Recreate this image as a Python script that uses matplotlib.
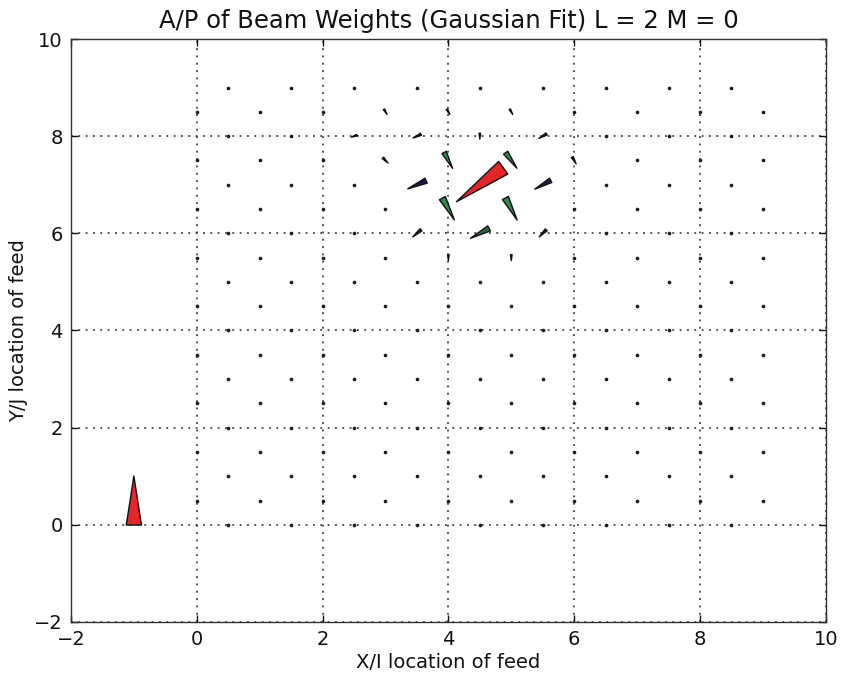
import numpy as np
import matplotlib
matplotlib.use("Agg")
import matplotlib.pyplot as plt
from matplotlib.collections import PolyCollection
from matplotlib.transforms import IdentityTransform

# --- feed lattice (hex layout) ---
# whole rows: y = 0..9, x = 0.5..8.5 ; half rows: y = 0.5..8.5, x = 0..9
ROW_Y_WHOLE = [0, 1, 2, 3, 4, 5, 6, 7, 8, 9]
ROW_X_WHOLE = [0.5, 1.5, 2.5, 3.5, 4.5, 5.5, 6.5, 7.5, 8.5]
ROW_Y_HALF = [0.5, 1.5, 2.5, 3.5, 4.5, 5.5, 6.5, 7.5, 8.5]
ROW_X_HALF = [0, 1, 2, 3, 4, 5, 6, 7, 8, 9]

# feeds whose weight is too small to show: plain dot
DOT_COLOR = "#1a1a2a"

# feeds with a visible weight: position, amplitude (key = 1), phase (deg), colour
FEED_X = [4.5, 4.0, 5.0, 4.0, 5.0, 3.5, 5.5, 4.5, 3.5, 5.5,
          4.0, 5.0, 3.0, 6.0, 3.5, 4.5, 5.5, 3.0, 4.0, 5.0, 2.5]
FEED_Y = [7.0, 7.5, 7.5, 6.5, 6.5, 7.0, 7.0, 6.0, 6.0, 6.0,
          5.5, 5.5, 7.5, 7.5, 8.0, 8.0, 8.0, 8.5, 8.5, 8.5, 8.0]
FEED_AMP = [1.18, 0.37, 0.39, 0.51, 0.51, 0.41, 0.37, 0.43, 0.22, 0.20,
            0.12, 0.12, 0.15, 0.16, 0.18, 0.12, 0.18, 0.12, 0.12, 0.12, 0.12]
FEED_PHASE = [36, 118, 126, 119, 118, 24, 29, 28, 41, 45,
              90, 90, 135, 120, 25, 90, 30, 120, 120, 120, 20]
FEED_COLOR = ["#e3262b", "#2f8a4e", "#2f8a4e", "#2f8a4e", "#2f8a4e",
              "#1c1c4a", "#1c1c4a", "#2a6a44", "#1c1c4a", "#1c1c4a",
              "#1c1c4a", "#1c1c4a", "#1c1c4a", "#1c1c4a", "#1c1c4a",
              "#1c1c4a", "#1c1c4a", "#1c1c4a", "#1c1c4a", "#1c1c4a", "#1c1c4a"]

# scale reference wedge
KEY_X, KEY_Y = -1.0, 0.5
KEY_AMP, KEY_PHASE, KEY_COLOR = 1.0, -90, "#e3262b"

PX_PER_AMP = 49.0   # wedge length in pixels for amplitude 1
WIDTH_RATIO = 0.27  # wide end / length


def wedge(amp, phase_deg, width_ratio=WIDTH_RATIO):
    """triangle centred on 0, wide end pointing along phase (pixels)"""
    L = amp * PX_PER_AMP
    W = width_ratio * L
    t = np.deg2rad(phase_deg)
    u = np.array([np.cos(t), np.sin(t)])
    n = np.array([-u[1], u[0]])
    return [-u * L / 2, u * L / 2 + n * W / 2, u * L / 2 - n * W / 2]


# the feeds that show up only as dots
dot_x, dot_y = [], []
special = set(zip(FEED_X, FEED_Y))
for yy in ROW_Y_WHOLE:
    for xx in ROW_X_WHOLE:
        if (xx, yy) not in special:
            dot_x.append(xx); dot_y.append(yy)
for yy in ROW_Y_HALF:
    for xx in ROW_X_HALF:
        if (xx, yy) not in special:
            dot_x.append(xx); dot_y.append(yy)

fig = plt.figure(figsize=(8.41, 6.76), dpi=100)
ax = fig.add_axes([0.0844, 0.0799, 0.8975, 0.8624])
ax.set_xlim(-2, 10)
ax.set_ylim(-2, 10)

ax.scatter(dot_x, dot_y, s=7, marker="o", color=DOT_COLOR, linewidths=0, zorder=3)

# visible weights + the scale key
verts = [wedge(a, p) for a, p in zip(FEED_AMP, FEED_PHASE)]
verts.append(wedge(KEY_AMP, KEY_PHASE, 0.31))
offsets = np.column_stack([FEED_X + [KEY_X], FEED_Y + [KEY_Y]])
coll = PolyCollection(verts, offsets=offsets, offset_transform=ax.transData,
                      transform=IdentityTransform(),
                      facecolors=FEED_COLOR + [KEY_COLOR], edgecolors="#111",
                      linewidths=1.0, zorder=4)
ax.add_collection(coll, autolim=False)

ax.grid(True, color="#222", linestyle=(0, (1.2, 3.6)), linewidth=1.1)
ax.set_axisbelow(True)
ax.tick_params(direction="in", top=True, right=True, length=5, width=1,
               labelsize=14, pad=6, colors="#111")
for s in ax.spines.values():
    s.set_color("#333")
    s.set_linewidth(1)

ax.set_title("A/P of Beam Weights (Gaussian Fit) L = 2 M = 0", fontsize=17.5, color="#111", pad=8)
ax.set_xlabel("X/I location of feed", fontsize=14, color="#111", labelpad=3)
ax.set_ylabel("Y/J location of feed", fontsize=14, color="#111")

fig.savefig("out.png", dpi=100)
